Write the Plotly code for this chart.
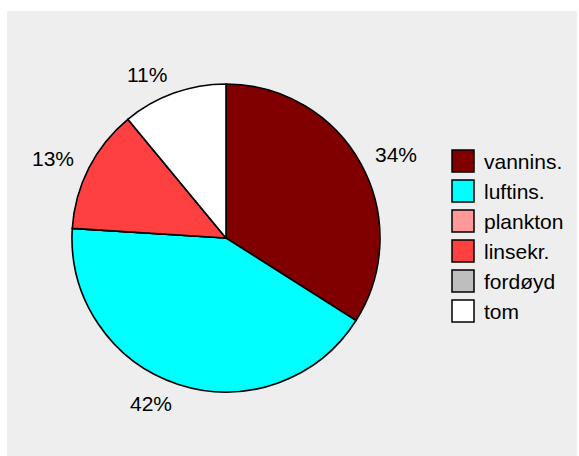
import math
import plotly.graph_objects as go

# Diet composition (percent of stomach contents)
categories = ["vannins.", "luftins.", "plankton", "linsekr.", "fordøyd", "tom"]
percent = [34, 42, 0, 13, 0, 11]
colors = ["#800000", "#00FFFF", "#FF9999", "#FF4040", "#BEBEBE", "#FFFFFF"]

W, H = 579, 456
FONT = "Liberation Sans, Arial, sans-serif"

# Pie geometry in pixels
CX, CY, R = 226, 238, 154
LABEL_RX, LABEL_RY = 1.09 * R, 1.13 * R

fig = go.Figure()
fig.add_trace(go.Pie(
    labels=categories,
    values=percent,
    textinfo="none",
    marker=dict(colors=colors, line=dict(color="black", width=1.6)),
    sort=False,
    direction="clockwise",
    rotation=0,
    showlegend=False,
    hoverinfo="label+percent",
    domain=dict(x=[(CX - R) / W, (CX + R) / W], y=[1 - (CY + R) / H, 1 - (CY - R) / H]),
))

# Light grey panel behind the chart
shapes = [dict(type="rect", xref="paper", yref="paper",
               x0=7 / W, x1=577 / W, y0=0, y1=1 - 11 / H,
               fillcolor="#EEEEEE", line=dict(width=0), layer="below")]
annotations = []

# Percentage labels just outside each non-empty slice, aligned away from the pie
total = sum(percent)
cum = 0
for p in percent:
    if p > 0:
        theta = 2 * math.pi * (cum + p / 2) / total  # clockwise from 12 o'clock
        px = CX + LABEL_RX * math.sin(theta)
        py = CY - LABEL_RY * math.cos(theta)
        annotations.append(dict(xref="paper", yref="paper", x=px / W, y=1 - py / H,
                                text=f"{p}%", showarrow=False,
                                xanchor="left" if math.sin(theta) > 0 else "right",
                                yanchor="middle",
                                font=dict(family=FONT, size=21, color="black")))
    cum += p

# Legend: coloured squares with category names
row0, step = 161, 30
for i, (name, col) in enumerate(zip(categories, colors)):
    yc = row0 + i * step
    shapes.append(dict(type="rect", xref="paper", yref="paper",
                       x0=452 / W, x1=474 / W,
                       y0=1 - (yc + 11) / H, y1=1 - (yc - 11) / H,
                       fillcolor=col, line=dict(color="black", width=1.5)))
    annotations.append(dict(xref="paper", yref="paper", x=482 / W, y=1 - yc / H,
                            text=name, showarrow=False, xanchor="left", yanchor="middle",
                            font=dict(family=FONT, size=21, color="black")))

fig.update_layout(
    width=W, height=H,
    margin=dict(l=0, r=0, t=0, b=0),
    paper_bgcolor="white",
    plot_bgcolor="white",
    shapes=shapes,
    annotations=annotations,
    font=dict(family=FONT, color="black"),
)

fig.write_html("out.html")
